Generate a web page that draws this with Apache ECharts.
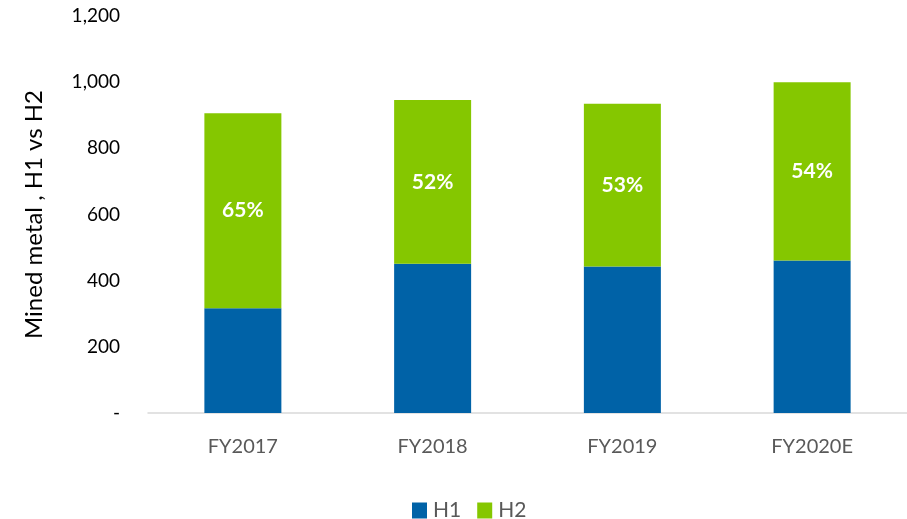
<!DOCTYPE html>
<html>
<head>
<meta charset="utf-8">
<script src="https://cdn.jsdelivr.net/npm/echarts@6/dist/echarts.min.js"></script>
<style>
  html, body { margin: 0; padding: 0; background: #fff; }
  #chart { width: 907px; height: 519px; }
</style>
</head>
<body>
<div id="chart"></div>
<script>
// values
const years = ['FY2017', 'FY2018', 'FY2019', 'FY2020E'];
const h1 = [317, 451, 443, 461];
const h2 = [589, 495, 492, 539];
const h2Share = ['65%', '52%', '53%', '54%'];

const font = 'Lato, "Open Sans", sans-serif';

let chart = echarts.init(document.getElementById('chart'));
chart.setOption({
  animation: false,
  textStyle: { fontFamily: font },
  grid: { left: 148, top: 16, width: 767, height: 397 },
  legend: {
    data: ['H1', 'H2'],
    left: 407,
    top: 495,
    icon: 'rect',
    itemWidth: 15,
    itemHeight: 16,
    itemGap: 16,
    textStyle: { fontSize: 21, color: '#595959', fontFamily: font, padding: [0, 0, 0, 1] }
  },
  xAxis: {
    type: 'category',
    data: years,
    axisLine: { lineStyle: { color: '#d9d9d9', width: 1.5 } },
    axisTick: { show: false },
    axisLabel: { fontSize: 20, color: '#595959', margin: 24, fontFamily: font }
  },
  yAxis: {
    type: 'value',
    min: 0,
    max: 1200,
    interval: 200,
    name: 'Mined metal , H1 vs H2',
    nameLocation: 'middle',
    nameGap: 102,
    nameTextStyle: { fontSize: 24, color: '#000', fontFamily: font },
    splitLine: { show: false },
    axisLine: { show: false },
    axisTick: { show: false },
    axisLabel: {
      fontSize: 19,
      color: '#000',
      margin: 28,
      fontFamily: font,
      formatter: v => v === 0 ? '-' : v.toLocaleString('en-US')
    }
  },
  series: [
    {
      name: 'H1',
      type: 'bar',
      stack: 'total',
      barWidth: 77,
      itemStyle: { color: '#0062a7' },
      data: h1
    },
    {
      name: 'H2',
      type: 'bar',
      stack: 'total',
      barWidth: 77,
      itemStyle: { color: '#85c700' },
      label: {
        show: true,
        position: 'inside',
        color: '#fff',
        fontWeight: 'bold',
        fontSize: 21,
        fontFamily: font,
        formatter: p => h2Share[p.dataIndex]
      },
      data: h2
    }
  ]
});
</script>
</body>
</html>
